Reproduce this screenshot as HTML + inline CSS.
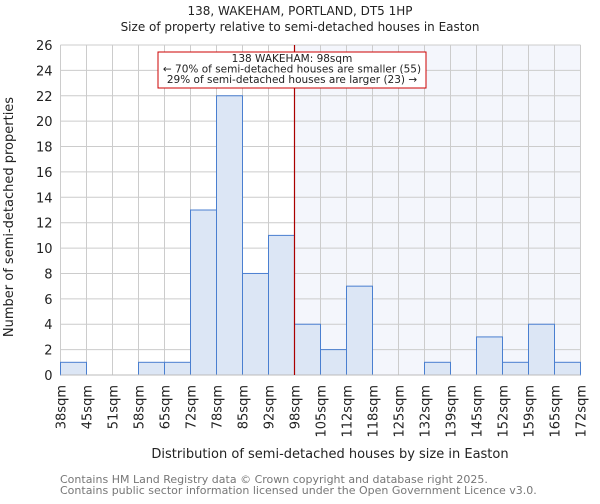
<!DOCTYPE html>
<html><head><meta charset="utf-8"><style>
body{margin:0;background:#fff;font-family:"DejaVu Sans","Liberation Sans",sans-serif}
svg text{font-family:"DejaVu Sans","Liberation Sans",sans-serif;fill:#222}
</style></head><body>
<svg id="c" width="600" height="500" xmlns="http://www.w3.org/2000/svg">
<text x="300" y="15" text-anchor="middle" font-size="12">138, WAKEHAM, PORTLAND, DT5 1HP</text>
<text x="300" y="31" text-anchor="middle" font-size="12">Size of property relative to semi-detached houses in Easton</text>
<g id="plot"></g>
<text x="330" y="458" text-anchor="middle" font-size="13">Distribution of semi-detached houses by size in Easton</text>
<text transform="translate(13,217) rotate(-90)" text-anchor="middle" font-size="13">Number of semi-detached properties</text>
<text x="60" y="483" font-size="11" style="fill:#777">Contains HM Land Registry data © Crown copyright and database right 2025.</text>
<text x="60" y="494" font-size="11" style="fill:#777">Contains public sector information licensed under the Open Government Licence v3.0.</text>
</svg>
<script>
const labels=["38sqm","45sqm","51sqm","58sqm","65sqm","72sqm","78sqm","85sqm","92sqm","98sqm","105sqm","112sqm","118sqm","125sqm","132sqm","139sqm","145sqm","152sqm","159sqm","165sqm","172sqm"];
const counts=[1,0,0,1,1,13,22,8,11,4,2,7,0,0,1,0,3,1,4,1];
const yTicks=[0,2,4,6,8,10,12,14,16,18,20,22,24,26];
const markerBin=9;
const L=60.5,R=580.5,T=45,B=375,yMax=26;
const NS="http://www.w3.org/2000/svg";
const g=document.getElementById('plot');
const xs=i=>L+(R-L)*i/counts.length;
const ys=v=>B-(B-T)*v/yMax;
function mk(t,a){const e=document.createElementNS(NS,t);for(const k in a)e.setAttribute(k,a[k]);g.appendChild(e);return e;}
let e=mk('rect',{x:xs(markerBin),y:T,width:R-xs(markerBin),height:B-T,fill:'#f4f6fc'});


yTicks.forEach(v=>{let l=mk('line',{x1:L,x2:R,y1:ys(v),y2:ys(v),stroke:'#ccc','stroke-width':1});


let t=mk('text',{x:L-8,y:ys(v)+5,'text-anchor':'end','font-size':13});t.textContent=v;

});
labels.forEach((s,i)=>{let l=mk('line',{x1:xs(i),x2:xs(i),y1:T,y2:B,stroke:'#ccc','stroke-width':1});


let t=mk('text',{transform:`translate(${xs(i)+5},${B+10}) rotate(-90)`,'text-anchor':'end','font-size':13});t.textContent=s;

});
counts.forEach((v,i)=>{if(v<=0)return;let r=mk('rect',{x:xs(i),y:ys(v),width:xs(i+1)-xs(i),height:B-ys(v),fill:'#dce6f5',stroke:'#4a7fd0','stroke-width':1});

});
let ax=mk('line',{x1:L,x2:R,y1:B,y2:B,stroke:'#bbb'});


let ml=mk('line',{x1:xs(markerBin),x2:xs(markerBin),y1:T,y2:B,stroke:'#a00','stroke-width':1.2});


let bx=mk('rect',{x:158,y:52,width:268,height:36,fill:'#fff',stroke:'#c00','stroke-width':1});


["138 WAKEHAM: 98sqm","← 70% of semi-detached houses are smaller (55)","29% of semi-detached houses are larger (23) →"].forEach((s,i)=>{let t=mk('text',{x:292,y:62+i*10.5,'text-anchor':'middle','font-size':10.5});t.textContent=s;

});
</script>
</body></html>
